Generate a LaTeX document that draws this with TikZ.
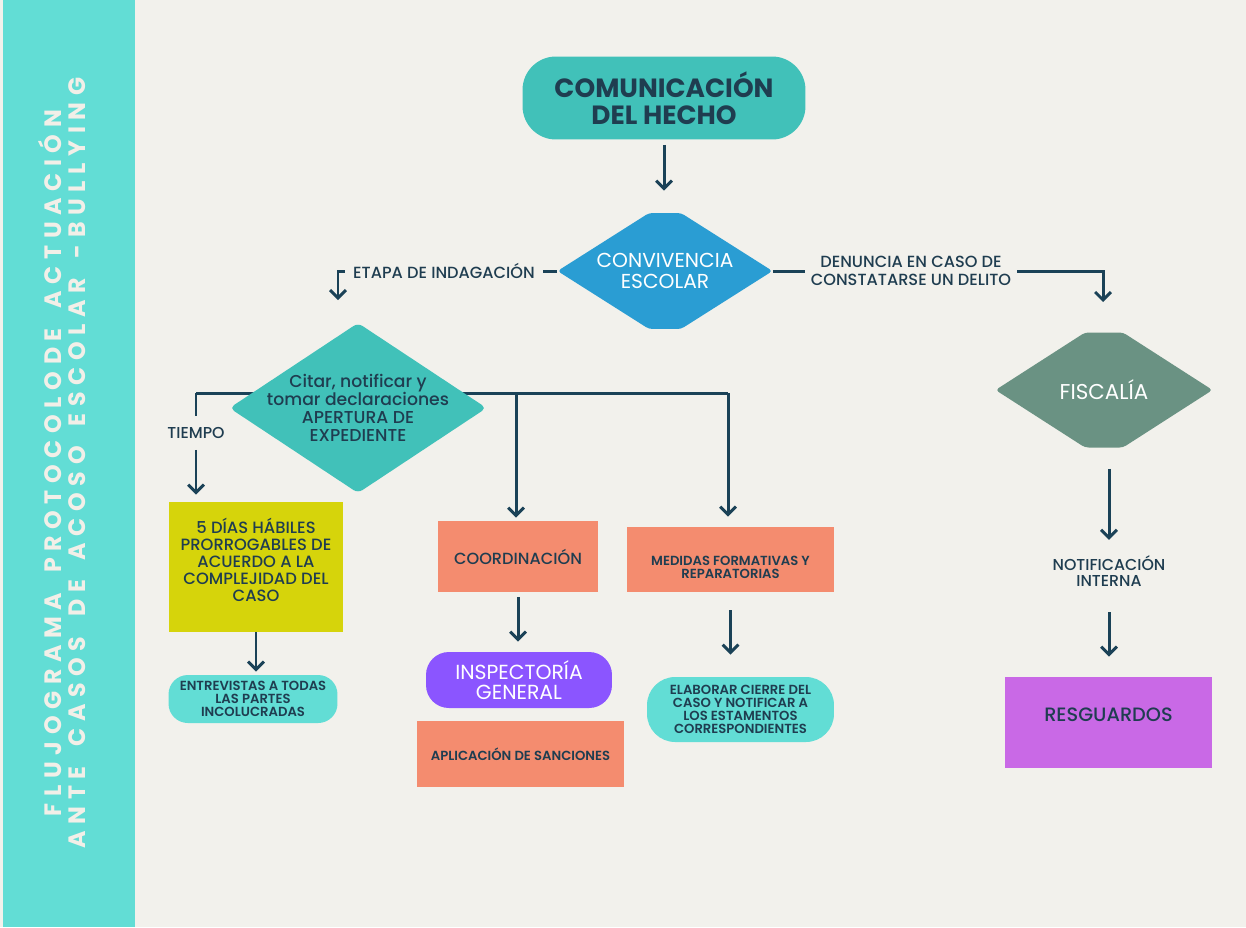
\documentclass[tikz,border=0pt]{standalone}
\usepackage{fontspec}
\setmainfont{Poppins}
\newfontfamily\pmed{Poppins Medium}
\newfontfamily\psemi{Poppins SemiBold}
\newfontfamily\sidefont{Poppins Bold}[LetterSpace=28,WordSpace=1.7]
\usetikzlibrary{arrows.meta}
\definecolor{bg}{HTML}{F2F1EC}
\definecolor{side}{HTML}{62DDD5}
\definecolor{sidetxt}{HTML}{F2EFE8}
\definecolor{navy}{HTML}{1B4257}
\definecolor{txt}{HTML}{1F3D50}
\definecolor{tealc}{HTML}{41C1B9}
\definecolor{bluec}{HTML}{2A9DD3}
\definecolor{greenc}{HTML}{6A9283}
\definecolor{yellowc}{HTML}{D6D40B}
\definecolor{salmonc}{HTML}{F48C6F}
\definecolor{purplec}{HTML}{8B55FF}
\definecolor{cyanc}{HTML}{62DDD5}
\definecolor{magentac}{HTML}{C969E6}
\begin{document}
\begin{tikzpicture}[x=0.02cm,y=-0.02cm,
  ln/.style={draw=navy,line width=1.7pt},
  arr/.style={ln,-{Straight Barb[length=4.5pt,width=9pt]}},
  box/.style={rectangle,inner sep=0pt,align=center,text=txt},
  lbl/.style={rectangle,inner sep=0pt,align=center,text=txt,fill=bg},
  hexa/.style 2 args={box,path picture={\fill[#1,rounded corners=2pt]
      (path picture bounding box.west)
      -- ([xshift=-#2]path picture bounding box.north)
      -- ([xshift=#2]path picture bounding box.north)
      -- (path picture bounding box.east)
      -- ([xshift=#2]path picture bounding box.south)
      -- ([xshift=-#2]path picture bounding box.south) -- cycle;}},
  diam/.style={box,path picture={\fill[#1,rounded corners=3pt]
      (path picture bounding box.west)
      -- (path picture bounding box.north)
      -- (path picture bounding box.east)
      -- (path picture bounding box.south) -- cycle;}},
]
\useasboundingbox (0,0) rectangle (1246,927);
\fill[bg] (0,0) rectangle (1246,927);
\fill[side] (3,0) rectangle (135,927);
\node[rotate=90,text=sidetxt,align=center,inner sep=0pt,
  font=\sidefont\fontsize{13.5}{14.2}\selectfont] (title) at (62,463)
  {FLUJOGRAMA PROTOCOLODE ACTUACIÓN\\ANTE CASOS DE ACOSO ESCOLAR -BULLYING};

% top
\node[box,fill=tealc,rounded corners=19pt,minimum width=5.66cm,minimum height=1.66cm,
  font=\bfseries\fontsize{15}{15.5}\selectfont] (com) at (664,98) {COMUNICACIÓN\\DEL HECHO};
\node[hexa={bluec}{0.32cm},minimum width=4.3cm,minimum height=2.32cm,text=white,
  font=\fontsize{11.5}{11.8}\selectfont] (conv) at (665,271) {CONVIVENCIA\\ESCOLAR};
\draw[arr,shorten <=0.1cm,shorten >=0.44cm] (com.south) -- (com.south |- conv.north);

% left branch label
\node[lbl,inner xsep=0.16cm,font=\pmed\fontsize{9.2}{10}\selectfont] (etapa) at (444,271) {ETAPA DE INDAGACIÓN};
\coordinate (etapaend) at (338,300);
\draw[ln] (conv.west) -- (etapa.east);
\draw[arr] (etapa.west) -| (etapaend);

% right branch label
\node[lbl,inner xsep=0.12cm,font=\pmed\fontsize{9.2}{10.2}\selectfont] (denuncia) at (911,271)
  {DENUNCIA EN CASO DE\\CONSTATARSE UN DELITO};
\coordinate (fisend) at (1103,302);
\draw[ln] (conv.east) -- (denuncia.west);
\draw[arr] (denuncia.east) -| (fisend);

% citar diamond and its lines
\coordinate (tl) at (196,393);
\coordinate (jm) at (516,393);
\coordinate (tr) at (728,393);
\draw[ln] (tl) -- (tr);
\node[diam=tealc,minimum width=5.14cm,minimum height=3.4cm,
  font=\pmed\fontsize{9.8}{10.3}\selectfont] (cit) at (358,408)
  {Citar, notificar y\\tomar declaraciones\\APERTURA DE\\EXPEDIENTE};

\node[lbl,minimum height=0.66cm,font=\pmed\fontsize{9}{9}\selectfont] (tiempo) at (196,433) {TIEMPO};
\draw[ln] (tl) -- (tiempo.north);

% dias
\node[box,fill=yellowc,minimum width=3.48cm,minimum height=2.6cm] (dias) at (256,567) {};
\node[box,font=\pmed\fontsize{9.3}{9.6}\selectfont] (diastxt) at (256,560)
  {5 DÍAS HÁBILES\\PRORROGABLES DE\\ACUERDO A LA\\COMPLEJIDAD DEL\\CASO};
\draw[arr,shorten >=0.14cm] (tiempo.south) -- (tiempo.south |- dias.north);
\node[box,fill=cyanc,rounded corners=11pt,minimum width=3.38cm,minimum height=0.96cm,
  font=\psemi\fontsize{7.5}{7.6}\selectfont] (entre) at (253,699)
  {ENTREVISTAS A TODAS\\LAS PARTES\\INCOLUCRADAS};
\draw[arr,shorten >=0.06cm] (dias.south) -- (dias.south |- entre.north);

% coordinacion
\node[box,fill=salmonc,minimum width=3.2cm,minimum height=1.42cm,
  font=\pmed\fontsize{9.2}{10}\selectfont] (coord) at (518,556.5) {COORDINACIÓN};
\draw[arr,shorten >=0.06cm] (jm) -- (jm |- coord.north);
\node[box,fill=purplec,text=white,rounded corners=13pt,minimum width=3.72cm,minimum height=1.12cm,
  font=\fontsize{11.6}{11.3}\selectfont] (insp) at (519,680) {INSPECTORÍA\\GENERAL};
\draw[arr,shorten <=0.1cm,shorten >=0.2cm] (coord.south) -- (coord.south |- insp.north);
\node[box,fill=salmonc,minimum width=4.14cm,minimum height=1.32cm,
  font=\psemi\fontsize{7.5}{8}\selectfont] (apl) at (520.5,754) {APLICACIÓN DE SANCIONES};

% medidas
\node[box,fill=salmonc,minimum width=4.14cm,minimum height=1.3cm] (med) at (730.5,559.5) {};
\node[box,font=\psemi\fontsize{7.5}{7.5}\selectfont] (medtxt) at (730.5,567)
  {MEDIDAS FORMATIVAS Y\\REPARATORIAS};
\draw[arr,shorten >=0.2cm] (tr) -- (tr |- med.north);
\node[box,fill=cyanc,rounded corners=16pt,minimum width=3.74cm,minimum height=1.3cm,
  font=\psemi\fontsize{7.5}{7.4}\selectfont] (elab) at (740.5,709.5)
  {ELABORAR CIERRE DEL\\CASO Y NOTIFICAR A\\LOS ESTAMENTOS\\CORRESPONDIENTES};
\draw[arr,shorten <=0.36cm,shorten >=0.44cm] (med.south) -- (med.south |- elab.north);

% right column
\node[hexa={greenc}{0.38cm},minimum width=4.34cm,minimum height=2.3cm,text=white,
  font=\fontsize{12.2}{12.5}\selectfont] (fis) at (1104,390) {FISCALÍA};
\node[box,font=\pmed\fontsize{9}{9.6}\selectfont] (notif) at (1109,571) {NOTIFICACIÓN\\INTERNA};
\draw[arr,shorten <=0.42cm,shorten >=0.3cm] (notif.north |- fis.south) -- (notif.north);
\node[box,fill=magentac,minimum width=4.14cm,minimum height=1.82cm] (res) at (1108.5,722.5) {};
\node[box,font=\pmed\fontsize{11}{12}\selectfont] (restxt) at (1108.5,715) {RESGUARDOS};
\draw[arr,shorten <=0.5cm,shorten >=0.4cm] (notif.south) -- (notif.south |- res.north);
\end{tikzpicture}
\end{document}
